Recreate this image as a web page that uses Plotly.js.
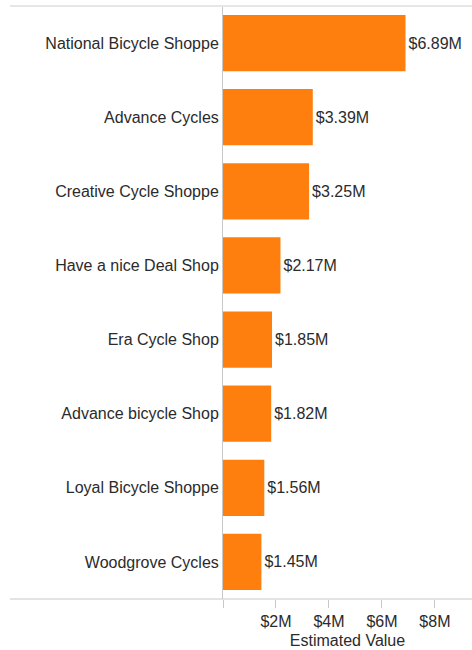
<!DOCTYPE html>
<html>
<head>
<meta charset="utf-8">
<script src="https://cdn.plot.ly/plotly-3.0.1.min.js"></script>
<style>html,body{margin:0;padding:0;background:#fff;}</style>
</head>
<body>
<div id="chart" style="width:472px;height:650px;"></div>
<script>
const shops = ["National Bicycle Shoppe","Advance Cycles","Creative Cycle Shoppe","Have a nice Deal Shop","Era Cycle Shop","Advance bicycle Shop","Loyal Bicycle Shoppe","Woodgrove Cycles"];
const values = [6.89, 3.39, 3.25, 2.17, 1.85, 1.82, 1.56, 1.45];
const valueLabels = ["$6.89M","$3.39M","$3.25M","$2.17M","$1.85M","$1.82M","$1.56M","$1.45M"];
const tickVals = [0, 2, 4, 6, 8];
const tickText = ["", "$2M", "$4M", "$6M", "$8M"];

const FONT = "Liberation Sans, Arial, sans-serif";
const trace = {
  type: "bar",
  orientation: "h",
  x: values,
  y: shops,
  text: valueLabels,
  textposition: "outside",
  cliponaxis: false,
  textfont: {family: FONT, size: 16, color: "#2b2b2b"},
  marker: {color: "#ff7f0e"},
  hoverinfo: "skip"
};

const layout = {
  width: 472, height: 650,
  margin: {l: 223, r: 0, t: 6, b: 51},
  paper_bgcolor: "#fff", plot_bgcolor: "#fff",
  font: {family: FONT, size: 16, color: "#2b2b2b"},
  bargap: 0.24,
  showlegend: false,
  xaxis: {
    range: [0, 9.4],
    tickvals: tickVals, ticktext: tickText,
    ticks: "outside", ticklen: 8, tickcolor: "#c8c8c8", tickwidth: 1,
    showgrid: false, zeroline: false, showline: false,
    tickfont: {size: 16, color: "#2b2b2b"},
    title: {text: "Estimated Value", font: {size: 16, color: "#2b2b2b"}, standoff: 5},
    fixedrange: true
  },
  yaxis: {
    autorange: "reversed",
    showgrid: false, zeroline: false,
    showline: true, linecolor: "#c8c8c8", linewidth: 1,
    ticks: "", ticklabelstandoff: 0,
    tickfont: {size: 16, color: "#2b2b2b"},
    fixedrange: true
  },
  shapes: [
    {type: "line", xref: "paper", yref: "paper", x0: -213/249, x1: 1, y0: 0, y1: 0, line: {color: "#c8c8c8", width: 1}},
    {type: "line", xref: "paper", yref: "paper", x0: -213/249, x1: 1, y0: 1, y1: 1, line: {color: "#e6e6e6", width: 2}}
  ]
};

Plotly.newPlot("chart", [trace], layout, {displayModeBar: false, staticPlot: true});
</script>
</body>
</html>
